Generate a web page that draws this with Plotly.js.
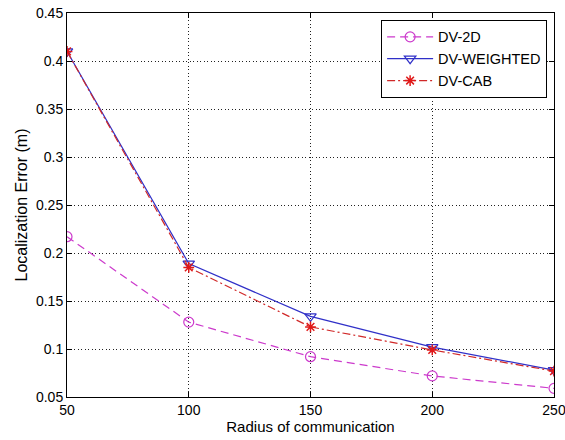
<!DOCTYPE html>
<html>
<head>
<meta charset="utf-8">
<script src="https://cdn.plot.ly/plotly-3.0.1.min.js"></script>
<style>html,body{margin:0;padding:0;background:#fff;}#chart{width:565px;height:440px;}</style>
</head>
<body>
<div id="chart"></div>
<script>
var radius = [50, 100, 150, 200, 250];
var dv2d = [0.217, 0.128, 0.092, 0.072, 0.059];
var dvWeighted = [0.41, 0.189, 0.134, 0.102, 0.078];
var dvCab = [0.41, 0.185, 0.123, 0.099, 0.077];
var yTickVals = [0.05, 0.1, 0.15, 0.2, 0.25, 0.3, 0.35, 0.4, 0.45];
var yTickText = ['0.05', '0.1', '0.15', '0.2', '0.25', '0.3', '0.35', '0.4', '0.45'];
var xTickVals = [50, 100, 150, 200, 250];

var traces = [
  {x: radius, y: dv2d, name: 'DV-2D', mode: 'lines+markers',
   line: {color: '#cc3acc', width: 1.2, dash: '8px,5px'},
   marker: {symbol: 'circle-open', size: 10, color: '#cc3acc', line: {width: 1.2}}},
  {x: radius, y: dvWeighted, name: 'DV-WEIGHTED', mode: 'lines+markers',
   line: {color: '#3030c8', width: 1.2},
   marker: {symbol: 'triangle-down-open', size: 10, color: '#3030c8', line: {width: 1.2}}},
  {x: radius, y: dvCab, name: 'DV-CAB', mode: 'lines+markers',
   line: {color: '#d02828', width: 1.2, dash: '8px,3px,2px,3px'},
   marker: {symbol: 'asterisk-open', size: 9, color: '#e01818', line: {width: 1.5, color: '#e01818'}}}
];

var axisCommon = {
  showline: true, linecolor: '#000', linewidth: 1, mirror: 'ticks',
  ticks: 'inside', ticklen: 5, tickcolor: '#000',
  showgrid: true, gridcolor: '#222', griddash: '1px,2.5px', gridwidth: 1,
  zeroline: false, ticklabeloverflow: 'allow',
  tickfont: {family: 'Liberation Sans, Arial, sans-serif', size: 14, color: '#000'}
};

var layout = {
  width: 565, height: 440,
  margin: {l: 67, r: 11, t: 13, b: 43},
  paper_bgcolor: '#fff', plot_bgcolor: '#fff',
  font: {family: 'Liberation Sans, Arial, sans-serif', color: '#000'},
  showlegend: true,
  legend: {x: 0.645, y: 0.982, xanchor: 'left', yanchor: 'top',
    bordercolor: '#000', borderwidth: 1, bgcolor: '#fff',
    font: {size: 14.5, color: '#000'}, itemwidth: 46, tracegroupgap: 0,
    entrywidth: 120, entrywidthmode: 'pixels'},
  xaxis: Object.assign({}, axisCommon, {
    range: [50, 250], tickvals: xTickVals,
    title: {text: 'Radius of communication', font: {size: 15}, standoff: 2}
  }),
  yaxis: Object.assign({}, axisCommon, {
    range: [0.05, 0.45], tickvals: yTickVals, ticktext: yTickText,
    title: {text: 'Localization Error (m)', font: {size: 16}, standoff: 4}
  })
};

Plotly.newPlot('chart', traces, layout, {displayModeBar: false, staticPlot: true});
</script>
</body>
</html>
